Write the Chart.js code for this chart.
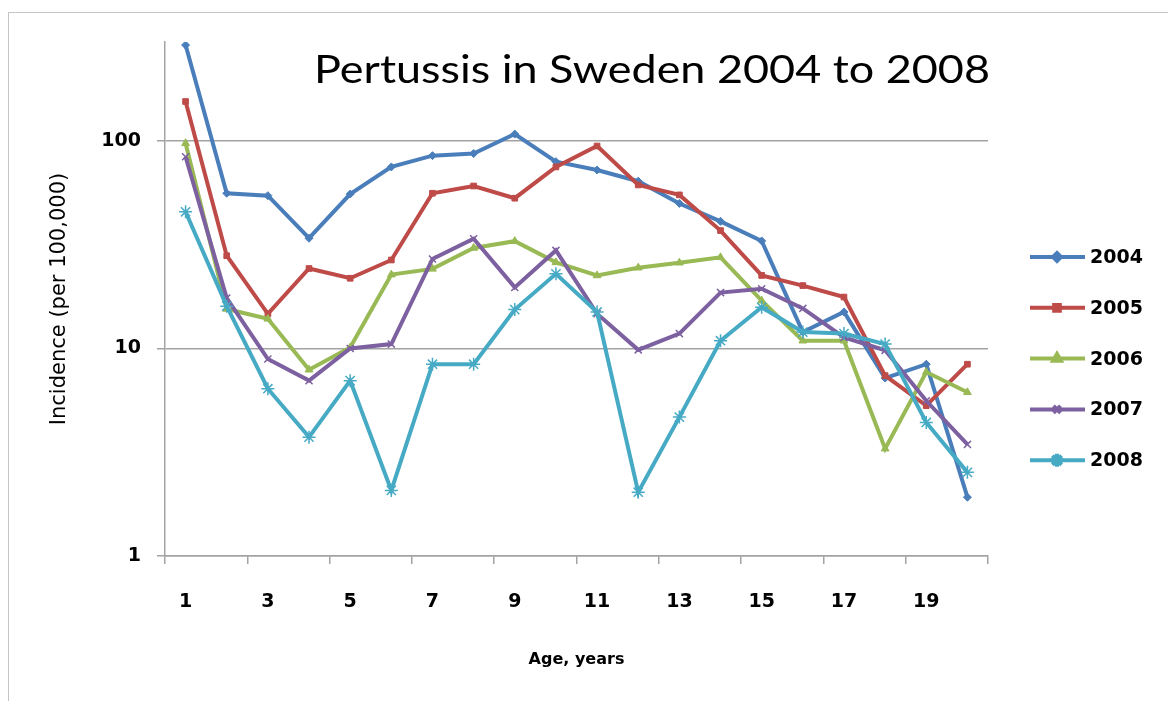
<!DOCTYPE html>
<html>
<head>
<meta charset="utf-8">
<script src="https://cdn.jsdelivr.net/npm/chart.js@4.4.0/dist/chart.umd.min.js"></script>
<style>
  html, body { margin: 0; padding: 0; background: #fff; overflow: hidden; }
  #wrap { width: 1168px; height: 701px; position: relative; }
</style>
</head>
<body>
<div id="wrap"><canvas id="chart" width="1168" height="701"></canvas></div>
<script>
// ages on the x axis (categories)
const ages = ["1","2","3","4","5","6","7","8","9","10","11","12","13","14","15","16","17","18","19","20"];
const years = ["2004", "2005", "2006", "2007", "2008"];
const yTicks = [1, 10, 100];

// incidence per 100,000
const inc2004 = [290, 56, 54.5, 34, 55.5, 75, 85, 87, 108, 79.5, 72.5, 64, 50, 41, 33, 12, 15, 7.2, 8.4, 1.92];
const inc2005 = [155, 28, 14.7, 24.3, 21.8, 26.7, 56, 60.7, 53, 75, 94.6, 61.4, 55, 37, 22.5, 20.1, 17.7, 7.4, 5.3, 8.4];
const inc2006 = [97.5, 15.5, 13.9, 7.9, 10.1, 22.7, 24.2, 30.5, 32.9, 26, 22.5, 24.5, 25.9, 27.5, 17, 10.9, 10.9, 3.29, 7.7, 6.15];
const inc2007 = [84, 17.5, 8.9, 7.0, 10, 10.5, 27, 33.8, 19.7, 29.7, 14.7, 9.85, 11.8, 18.6, 19.4, 15.6, 11.3, 9.8, 5.6, 3.45];
const inc2008 = [45.6, 16, 6.4, 3.74, 7.0, 2.07, 8.4, 8.4, 15.4, 22.9, 15, 2.03, 4.67, 10.9, 15.8, 12, 11.8, 10.5, 4.4, 2.53];

const series = [inc2004, inc2005, inc2006, inc2007, inc2008];
const colors = ["#4a7ebb", "#be4b48", "#98b954", "#7d60a0", "#46aac5"];
const markers = ["rectRot", "rect", "triangle", "crossRot", "star"];
const markerSize = [4, 4, 4.5, 5, 6.5];

const gridGray = "#a3a3a3";
const tickFont = { family: "DejaVu Sans", size: 19, weight: "bold" };

// title, legend and outer frame
const decor = {
  id: "decor",
  beforeDraw(chart) {
    const ctx = chart.ctx;
    ctx.save();
    ctx.strokeStyle = "#c4c4c4";
    ctx.lineWidth = 1;
    ctx.strokeRect(8.5, 12.5, 1300, 800);
    ctx.restore();
  },
  afterDraw(chart) {
    const ctx = chart.ctx;
    ctx.save();
    // title, stretched to the width it has in the picture
    const title = "Pertussis in Sweden 2004 to 2008";
    ctx.font = "38px Lato";
    ctx.fillStyle = "#000";
    ctx.textBaseline = "alphabetic";
    ctx.textAlign = "left";
    const w = ctx.measureText(title).width;
    ctx.translate(314, 83);
    ctx.scale(676 / w, 1);
    ctx.fillText(title, 0, 0);
    ctx.restore();

    // legend
    ctx.save();
    chart.data.datasets.forEach((ds, i) => {
      const y = 257 + i * 50.8;
      ctx.strokeStyle = ds.borderColor;
      ctx.lineWidth = 4;
      ctx.beginPath();
      ctx.moveTo(1030, y);
      ctx.lineTo(1085, y);
      ctx.stroke();
      ctx.fillStyle = ds.borderColor;
      Chart.helpers.drawPoint(ctx, {
        pointStyle: ds.pointStyle,
        radius: ds.pointRadius,
        borderWidth: ds.pointBorderWidth,
        rotation: 0
      }, 1057, y);
      ctx.fillStyle = "#000";
      ctx.font = "bold 19px 'DejaVu Sans'";
      ctx.textAlign = "left";
      ctx.textBaseline = "middle";
      ctx.fillText(ds.label, 1090, y + 1);
    });
    ctx.restore();
  }
};

const datasets = years.map((yr, k) => ({
  label: yr,
  data: series[k],
  borderColor: colors[k],
  backgroundColor: colors[k],
  pointBackgroundColor: colors[k],
  pointBorderColor: colors[k],
  borderWidth: 4,
  pointStyle: markers[k],
  pointRadius: markerSize[k],
  pointBorderWidth: k >= 3 ? 1.5 : 1,
  tension: 0,
  order: 4 - k
}));

new Chart(document.getElementById("chart"), {
  type: "line",
  data: { labels: ages, datasets: datasets },
  options: {
    responsive: false,
    animation: false,
    devicePixelRatio: 1,
    layout: { padding: { left: 43, top: 42, right: 180, bottom: 28 } },
    plugins: {
      legend: { display: false },
      title: { display: false },
      tooltip: { enabled: false }
    },
    scales: {
      x: {
        type: "category",
        offset: true,
        grid: {
          offset: true,
          drawOnChartArea: false,
          drawTicks: true,
          tickLength: 8,
          lineWidth: 1.5,
          color: ctx => (ctx.index === undefined || ctx.index % 2 === 0) ? gridGray : "rgba(0,0,0,0)"
        },
        border: { display: true, color: gridGray, width: 1.5 },
        ticks: {
          autoSkip: false,
          maxRotation: 0,
          padding: 27,
          color: "#000",
          font: tickFont,
          callback: (v, i) => (i % 2 === 0 ? ages[i] : "")
        },
        title: {
          display: true,
          text: "Age, years",
          color: "#000",
          font: { family: "DejaVu Sans", size: 16, weight: "bold" }
        },
        afterFit: scale => { scale.height = 117; }
      },
      y: {
        type: "logarithmic",
        min: 1,
        max: 300,
        afterBuildTicks: axis => { axis.ticks = yTicks.map(v => ({ value: v })); },
        grid: { color: gridGray, lineWidth: 1.5, tickLength: 8 },
        border: { display: true, color: gridGray, width: 1.5 },
        ticks: {
          padding: 16,
          color: "#000",
          font: tickFont,
          callback: v => String(v)
        },
        title: {
          display: true,
          text: "Incidence (per 100,000)",
          color: "#000",
          font: { family: "DejaVu Sans", size: 21 }
        },
        afterFit: scale => { scale.width = 122; }
      }
    }
  },
  plugins: [decor]
});
</script>
</body>
</html>
